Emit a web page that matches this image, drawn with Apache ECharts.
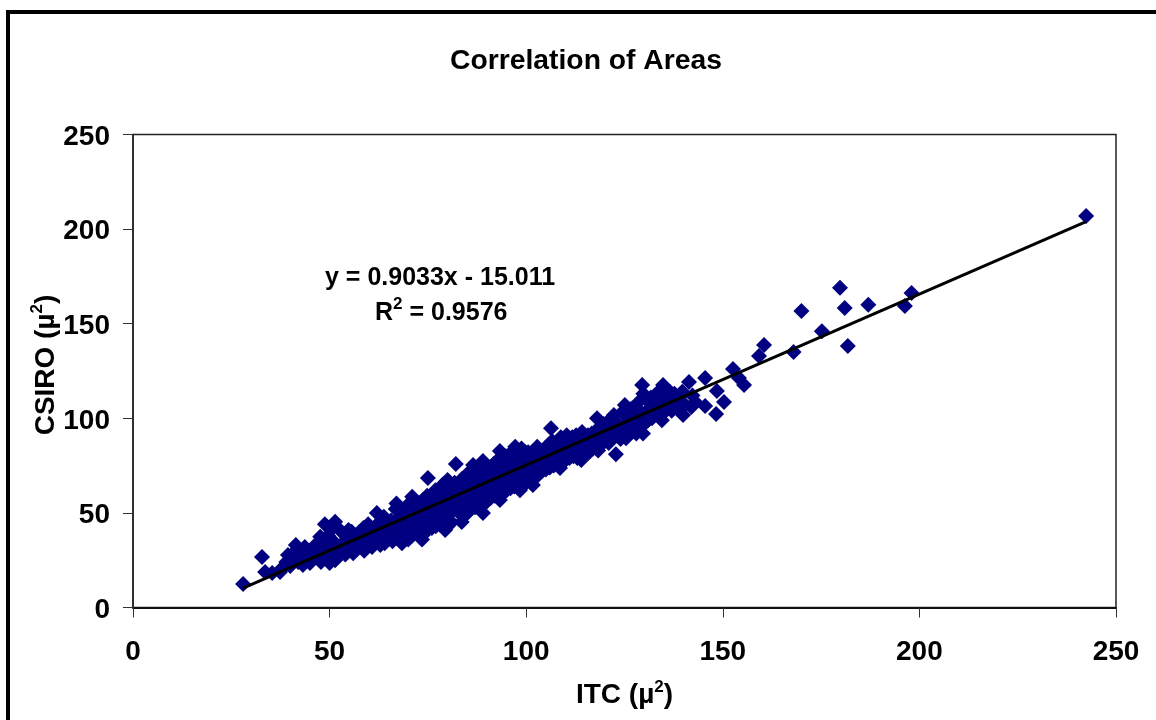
<!DOCTYPE html>
<html>
<head>
<meta charset="utf-8">
<style>html,body{margin:0;padding:0;background:#fff}#c{width:1156px;height:720px}</style>
<script src="https://cdn.jsdelivr.net/npm/echarts@6/dist/echarts.min.js"></script>
</head>
<body>
<div id="c"></div>
<script>
const titleText = 'Correlation of Areas';
const equationText = 'y = 0.9033x - 15.011';
const rSquaredValue = '0.9576';
const xTicks = [0, 50, 100, 150, 200, 250];
const yTicks = [0, 50, 100, 150, 200, 250];
const trendLine = [[28, 10.3], [242.4, 204]];

const points20s30s = [[28,12.4],[32.8,26.7],[33.6,18.8],[35.4,18.2],[37.4,18.8],[38,21],[39,24],[39.4,27.7]];
const points40s = [[40,22],[40.4,28],[41,25],[41.4,33],[41.7,29],[42,24],[42.6,30],[43.2,22.5],[43.7,32],[44,25],[44.4,30],[45,23.5],[45.6,31],[46,26],[46.4,33],[47,27],[47.6,37.4],[47.3,31],[47.8,24],[48.3,36],[48.5,26],[49.2,33],[48.8,44],[49.6,38]];
const points50s = [[50,23.5],[50.5,36],[50.8,42],[51.4,25],[51.2,33],[51.4,45.3],[52,27],[52.6,41],[53,30],[53.6,39],[54,28],[54.6,37],[54.8,41],[55.3,35],[55.6,40],[56,28.7],[56.6,38],[57,31],[57.4,36],[57.7,40],[58.3,37],[58.6,42],[58.8,30],[59.3,35],[59.8,44]];
const points60s = [[60.8,32],[60,36],[60.3,41],[61,34],[61.7,43],[62,50],[62.5,40],[62.7,45],[62.9,33],[63.3,39],[63.8,48],[64,34],[64.6,42],[65,37],[65.6,46],[66,35],[66.6,44],[66.8,52],[67,37],[67.6,47],[67,55],[68.4,34],[68.2,45],[68.6,50],[69,38],[69.3,43],[69.8,54]];
const points70s = [[70,36],[70.5,46],[70.7,51],[71,38],[71.3,44],[71,58.5],[72,40],[72.6,50],[72.8,55],[73.5,36],[73.2,42],[73.6,53],[73.8,57],[74.3,49],[74.8,59],[75,41],[75.2,46],[75.7,57],[75,68.5],[76,42],[76.5,53],[76.9,62],[77,43],[77.3,49],[77.8,60],[78,44],[78.4,56],[78.8,65],[79.4,41],[79,47],[79.6,58],[79.8,63]];
const points80s = [[80,43],[80.2,49],[80.6,60],[80,67.4],[81,45],[81.4,56],[81.8,66],[82.3,52],[82.7,63],[82.1,75.9],[83.6,45.2],[83.2,55],[83.7,68],[84,48],[84.4,60],[84.8,70],[85.2,56],[85.6,67],[85.8,72],[86,52],[86.4,64],[86.5,75.3],[87,53],[87.6,66],[87.8,71],[88.3,61],[88.8,73],[89,50],[89.2,57],[89.6,69],[89,77.4]];
const points90s = [[90,56],[90.6,68],[90.8,74],[91.3,64],[91.8,76],[92,59],[92.6,71],[92.8,78],[93.3,56.8],[93.2,69],[93.3,82.7],[94,60],[94.6,72],[94.8,80],[95.3,68],[95.8,81],[96,63],[96.6,75],[96.8,83],[97,64],[97.2,84.9],[98.4,62],[98.2,73],[98.8,84],[99,65],[99.6,77],[99.8,82]];
const points100s = [[100,66],[100.5,82],[100.7,78],[101.7,64.7],[101.3,76],[102,68],[102.6,80],[102.8,85],[103,70],[103.7,82],[104,72],[104.4,78],[105,73],[105.7,86],[106,74],[106.2,80],[106.3,94.8],[106.6,88],[107.4,82],[107.7,87],[108.6,73.7],[108.3,85],[108.8,90],[109,77],[109.7,89]];
const points110s = [[110,78],[110.2,84],[110.3,91],[111,79],[111.7,90],[112,80],[112.4,86],[112.7,91],[113,79],[113.7,89],[114,78],[114.4,85],[114.2,92.8],[115,81],[115.7,91],[116,82],[116.7,92],[117,84],[117.4,90],[118.3,83],[118.5,95],[118,100],[119,86],[119.7,97]];
const points120s = [[120,88],[120.7,98],[121,87],[121.3,99],[122.8,81],[122,90],[122.3,101.7],[123.4,97],[124,89],[124.8,104],[125.4,89.5],[125.5,101],[125.1,107],[126,93],[126.7,105],[127,95],[127.7,106],[128,92],[128.6,104],[128.8,109],[129.3,102],[129.8,113],[129.7,92],[129.5,117.6]];
const points130s = [[130.3,103],[130.6,110],[131,99],[131.7,111],[132,100],[132.4,106],[133,102],[133.7,114],[134.5,99],[134.3,110],[134.7,116],[135,103],[134.8,117.6],[136,105],[136.6,113.9],[137,104],[137.7,113],[138.4,107],[139,104],[139.7,114]];
const points140up = [[139.9,101.7],[140,108],[139.9,113.4],[141.4,119.2],[142,106],[142.3,112],[143,108.6],[145.5,121.3],[145.5,106.5],[148.5,114.4],[150.3,108.6],[148.3,102.3],[152.6,126],[154.1,121.3],[155.4,117.6]];
const outliers = [[159.2,132.9],[160.5,138.8],[168,135],[170,156.7],[175.2,146],[179.8,169],[181,158.3],[181.8,138.2],[187,160],[196.3,159.4],[198,166.2],[242.4,206.9]];
const coreLow = [[44.8,27],[46.8,29],[49,30],[50.3,30],[52.2,32],[53.3,34],[55,33],[56.3,33],[58,33],[59,38],[61.4,38],[63,36],[64.3,38],[65.3,41],[66.3,39],[67.3,42],[68,40],[69.6,48],[70.2,41],[71.6,49],[72.3,45],[73.4,47],[74,44],[74.6,54],[75.5,52],[76.3,47],[76.7,58],[77.6,55],[78.2,50],[78.6,61],[79.2,52]];
const coreMid = [[80.4,54],[81.2,51],[81.6,62],[82.5,58],[83,50],[83.4,61],[84.2,54],[84.6,65],[85,50],[85.4,62],[86.2,58],[86.6,69],[87.3,60],[88,55],[88.6,67],[89.4,63],[90.3,62],[91,58],[91.6,70],[92.3,65],[93,63],[93.5,75],[94.3,66],[95,62],[95.6,74],[96.3,69],[97.3,70],[97.6,76],[98,67],[98.6,79],[99.3,71]];
const coreHigh = [[100.3,72],[101,70],[101.6,81],[102.3,74],[103.4,76],[104.7,84],[105.4,79],[107,75],[108,79],[109.4,83],[111.4,85],[113.4,84],[115.4,87],[116.4,88],[118,89],[119.4,92],[120.4,93],[122.4,96],[123,91],[124.3,95],[125,96],[126.4,99],[127.4,101],[128.3,98],[129,96],[130,97],[131.4,105],[132.7,112],[133.4,108],[135.4,109],[136.4,111]];

const scatterData = [].concat(points20s30s, points40s, points50s, points60s, points70s, points80s, points90s, points100s, points110s, points120s, points130s, points140up, outliers, coreLow, coreMid, coreHigh);

const font = '"Liberation Sans", Arial, sans-serif';
const supRich = {
  b: {fontFamily: font, fontWeight: 'bold', fontSize: 28, color: '#000', lineHeight: 34},
  e: {fontFamily: font, fontWeight: 'bold', fontSize: 25, color: '#000', lineHeight: 34},
  s: {fontFamily: font, fontWeight: 'bold', fontSize: 17, color: '#000', lineHeight: 34, verticalAlign: 'top'}
};

const chart = echarts.init(document.getElementById('c'), null, {renderer: 'canvas'});
chart.setOption({
  animation: false,
  backgroundColor: '#fff',
  title: {
    text: titleText, left: 445, top: 42,
    textStyle: {fontFamily: font, fontWeight: 'bold', fontSize: 28.3, color: '#000'}
  },
  grid: {left: 133, right: 40, top: 134.5, bottom: 112.5, show: true, borderColor: '#222', borderWidth: 1.5, backgroundColor: '#fff'},
  xAxis: {
    type: 'value', min: 0, max: 250, interval: 50, splitLine: {show: false},
    axisLine: {onZero: false, lineStyle: {color: '#111', width: 2}},
    axisTick: {length: 10, lineStyle: {color: '#333', width: 1}},
    axisLabel: {margin: 31, fontFamily: font, fontWeight: 'bold', fontSize: 28, color: '#000',
      formatter: v => String(xTicks.includes(v) ? v : '')},
    name: '{b|ITC (µ}{s|2}{b|)}', nameLocation: 'middle', nameGap: 71, nameMoveOverlap: false,
    nameTextStyle: {rich: supRich}
  },
  yAxis: {
    type: 'value', min: 0, max: 250, interval: 50, splitLine: {show: false},
    axisLine: {onZero: false, lineStyle: {color: '#222', width: 1.5}},
    axisTick: {length: 10, lineStyle: {color: '#333', width: 1}},
    axisLabel: {margin: 23, fontFamily: font, color: '#000',
      formatter: v => yTicks.includes(v) ? '{v|' + v + '}' : '',
      rich: {v: {fontFamily: font, fontWeight: 'bold', fontSize: 28, color: '#000', padding: [5, 0, 0, 0]}}},
    name: '{b|CSIRO (µ}{s|2}{b|)}', nameLocation: 'middle', nameGap: 70, nameMoveOverlap: false,
    nameTextStyle: {rich: supRich, padding: [0, 0, 0, 12]}
  },
  graphic: [
    {type: 'line', silent: true, shape: {x1: 8, y1: 12, x2: 8, y2: 720}, style: {stroke: '#000', lineWidth: 4}},
    {type: 'line', silent: true, shape: {x1: 6, y1: 12, x2: 1156, y2: 12}, style: {stroke: '#000', lineWidth: 4}},
    {type: 'text', silent: true, left: 325, top: 266, style: {text: equationText, font: 'bold 25px ' + font, fill: '#000'}},
    {type: 'text', silent: true, left: 375, top: 296, style: {
      text: '{e|R}{s|2}{e| = ' + rSquaredValue + '}', rich: supRich}}
  ],
  series: [
    {type: 'scatter', data: scatterData, symbol: 'diamond', symbolSize: 16,
      itemStyle: {color: '#000080', opacity: 1}, z: 2},
    {type: 'line', data: trendLine, symbol: 'none', silent: true,
      lineStyle: {color: '#000', width: 3}, z: 3}
  ]
});
</script>
</body>
</html>
